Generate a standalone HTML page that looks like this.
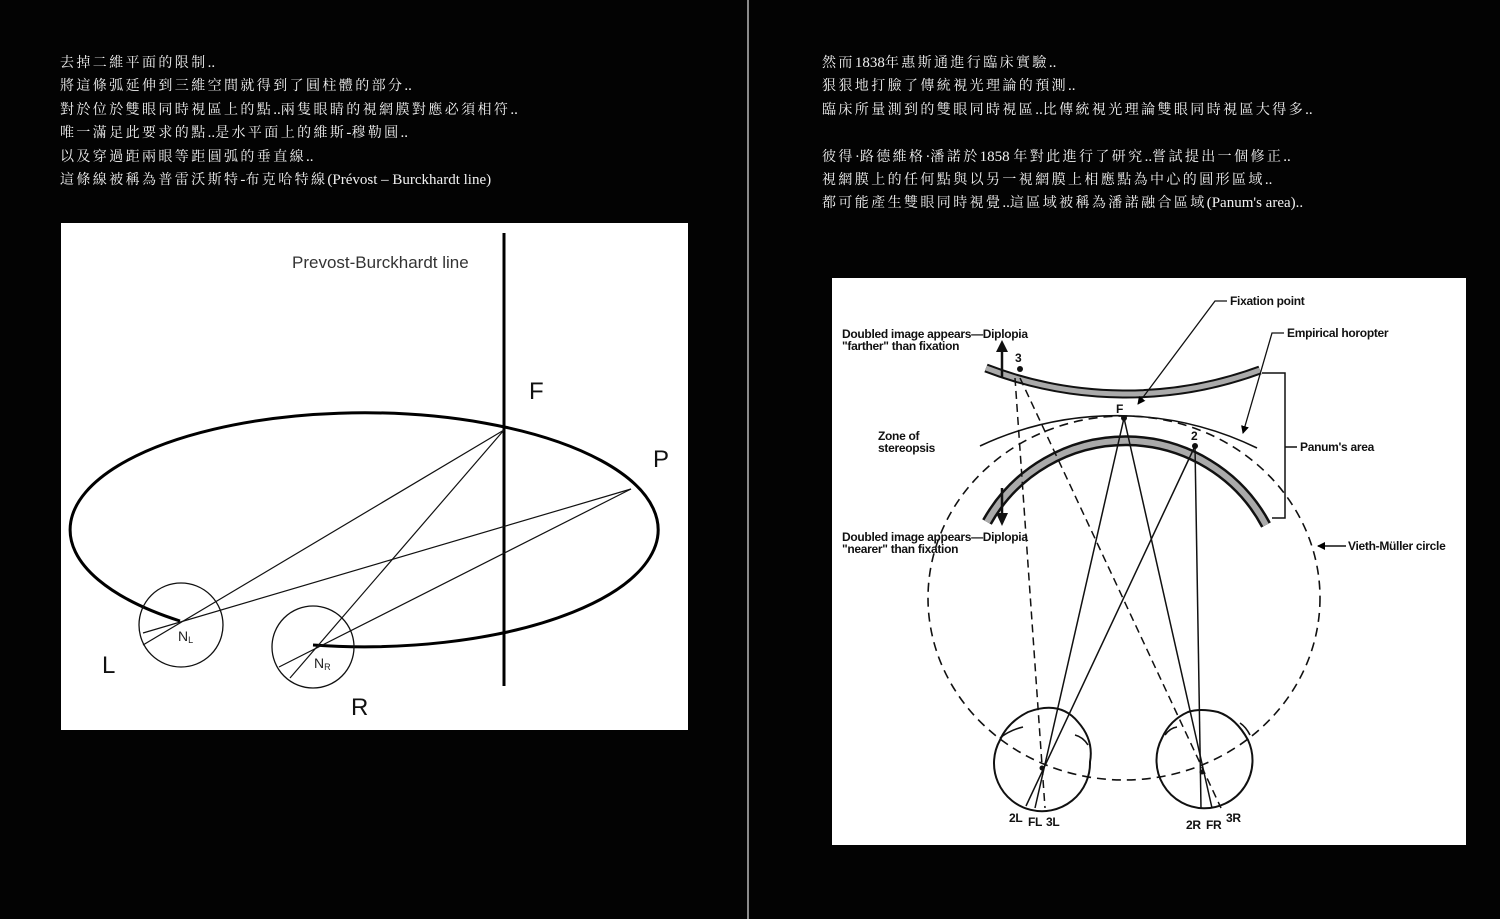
<!DOCTYPE html>
<html><head><meta charset="utf-8">
<style>
html,body{margin:0;padding:0;background:#030303;}
body{width:1500px;height:919px;position:relative;overflow:hidden;}
.t{position:absolute;color:#f2f2f2;font-family:"Liberation Serif","Noto Serif CJK SC",serif;font-size:14px;letter-spacing:2.4px;line-height:23.4px;white-space:nowrap;}
.t span{letter-spacing:0;font-size:15px;}
.div{position:absolute;left:747px;top:0;width:2px;height:919px;background:#8a8a8a;}
svg{position:absolute;left:0;top:0;}
</style></head><body>
<div class="div"></div>
<div class="t" style="left:60px;top:52px;">去掉二維平面的限制<span>..</span><br>將這條弧延伸到三維空間就得到了圓柱體的部分<span>..</span><br>對於位於雙眼同時視區上的點<span>..</span>兩隻眼睛的視網膜對應必須相符<span>..</span><br>唯一滿足此要求的點<span>..</span>是水平面上的維斯<span>-</span>穆勒圓<span>..</span><br>以及穿過距兩眼等距圓弧的垂直線<span>..</span><br>這條線被稱為普雷沃斯特<span>-</span>布克哈特線<span>(Prévost – Burckhardt line)</span></div>
<div class="t" style="left:822px;top:52px;">然而<span>1838</span>年惠斯通進行臨床實驗<span>..</span><br>狠狠地打臉了傳統視光理論的預測<span>..</span><br>臨床所量測到的雙眼同時視區<span>..</span>比傳統視光理論雙眼同時視區大得多<span>..</span><br><br>彼得<span>·</span>路德維格<span>·</span>潘諾於<span>1858 </span>年對此進行了研究<span>..</span>嘗試提出一個修正<span>..</span><br>視網膜上的任何點與以另一視網膜上相應點為中心的圓形區域<span>..</span><br>都可能產生雙眼同時視覺<span>..</span>這區域被稱為潘諾融合區域<span>(Panum's area)..</span></div>

<svg width="1500" height="919" viewBox="0 0 1500 919" font-family="Liberation Sans, Arial, sans-serif">
<defs>
<marker id="ah" markerWidth="8" markerHeight="8" refX="7" refY="4" orient="auto" markerUnits="userSpaceOnUse"><path d="M0,0 L8,4 L0,8 z" fill="#000"/></marker>
</defs>
<rect x="61" y="223" width="627" height="507" fill="#fff"/>
<text x="292" y="268" font-size="17" fill="#333">Prevost-Burckhardt line</text>
<path d="M180,621 A294,117 0 1 1 313,645" fill="none" stroke="#000" stroke-width="3"/>
<line x1="504" y1="233" x2="504" y2="686" stroke="#000" stroke-width="3"/>
<circle cx="181" cy="625" r="42" fill="none" stroke="#111" stroke-width="1.3"/>
<circle cx="313" cy="647" r="41" fill="none" stroke="#111" stroke-width="1.3"/>
<g stroke="#111" stroke-width="1.2">
<line x1="504" y1="430" x2="143" y2="645"/>
<line x1="631" y1="489" x2="143" y2="633"/>
<line x1="504" y1="430" x2="290" y2="678"/>
<line x1="631" y1="489" x2="279" y2="667"/>
</g>
<text x="529" y="399" font-size="24" fill="#111">F</text>
<text x="653" y="467" font-size="24" fill="#111">P</text>
<text x="102" y="673" font-size="24" fill="#111">L</text>
<text x="351" y="715" font-size="24" fill="#111">R</text>
<text x="178" y="641" font-size="14" fill="#222">N<tspan font-size="9" dy="2">L</tspan></text>
<text x="314" y="668" font-size="14" fill="#222">N<tspan font-size="9" dy="2">R</tspan></text>

<rect x="832" y="278" width="634" height="567" fill="#fff"/>
<g font-size="12" fill="#111" font-weight="bold" letter-spacing="-0.3">
<text x="1230" y="305">Fixation point</text>
<text x="1287" y="337">Empirical horopter</text>
<text x="842" y="338">Doubled image appears—Diplopia</text>
<text x="842" y="350">"farther" than fixation</text>
<text x="878" y="440">Zone of</text>
<text x="878" y="452">stereopsis</text>
<text x="1300" y="451">Panum's area</text>
<text x="842" y="541">Doubled image appears—Diplopia</text>
<text x="842" y="553">"nearer" than fixation</text>
<text x="1348" y="550">Vieth-Müller circle</text>
<text x="1015" y="362">3</text>
<text x="1116" y="413">F</text>
<text x="1191" y="440">2</text>
<text x="1009" y="822">2L</text>
<text x="1028" y="826">FL</text>
<text x="1046" y="826">3L</text>
<text x="1186" y="829">2R</text>
<text x="1206" y="829">FR</text>
<text x="1226" y="822">3R</text>
</g>
<g fill="none" stroke="#111" stroke-width="2">
<path d="M1028,712 Q1060,700 1078,722 Q1094,740 1090,762 A48,48 0 1 1 1000,740 Q1008,722 1028,712 z"/>
<path d="M1188,712 Q1170,720 1162,738 A48,48 0 1 0 1248,740 Q1236,718 1218,712 Q1200,708 1188,712 z"/>
</g>
<ellipse cx="1124" cy="598" rx="196" ry="182" fill="none" stroke="#111" stroke-width="1.6" stroke-dasharray="9,6"/>
<path d="M986,368 A388,388 0 0 0 1260,370" fill="none" stroke="#111" stroke-width="9"/>
<path d="M986,368 A388,388 0 0 0 1260,370" fill="none" stroke="#aaa" stroke-width="5"/>
<path d="M980,446 A322,322 0 0 1 1257,448" fill="none" stroke="#111" stroke-width="1.6"/>
<path d="M987,522 A159,159 0 0 1 1266,525" fill="none" stroke="#111" stroke-width="11"/>
<path d="M987,522 A159,159 0 0 1 1266,525" fill="none" stroke="#aaa" stroke-width="6"/>
<line x1="1002" y1="378" x2="1002" y2="350" stroke="#111" stroke-width="2.5"/>
<path d="M996,352 L1002,340 L1008,352 z" fill="#111"/>
<line x1="1002" y1="488" x2="1002" y2="515" stroke="#111" stroke-width="2.5"/>
<path d="M996,513 L1002,526 L1008,513 z" fill="#111"/>
<circle cx="1020" cy="369" r="3" fill="#111"/>
<circle cx="1124" cy="418" r="3" fill="#111"/>
<circle cx="1195" cy="446" r="3" fill="#111"/>
<polyline points="1227,301 1215,301 1138,404" fill="none" stroke="#111" stroke-width="1.3" marker-end="url(#ah)"/>
<polyline points="1284,333 1272,333 1243,433" fill="none" stroke="#111" stroke-width="1.3" marker-end="url(#ah)"/>
<polyline points="1262,373 1285,373 1285,518 1272,518" fill="none" stroke="#111" stroke-width="1.5"/>
<line x1="1285" y1="447" x2="1297" y2="447" stroke="#111" stroke-width="1.5"/>
<line x1="1346" y1="546" x2="1318" y2="546" stroke="#111" stroke-width="1.5" marker-end="url(#ah)"/>
<path d="M1000,738 Q1010,730 1023,727" fill="none" stroke="#111" stroke-width="1.6"/>
<path d="M1075,735 Q1083,737 1088,745" fill="none" stroke="#111" stroke-width="1.6"/>
<path d="M1165,735 Q1170,728 1177,727" fill="none" stroke="#111" stroke-width="1.6"/>
<path d="M1240,723 Q1246,727 1250,735" fill="none" stroke="#111" stroke-width="1.6"/>
<g stroke="#111" stroke-width="1.5">
<line x1="1124" y1="418" x2="1035" y2="808"/>
<line x1="1124" y1="418" x2="1212" y2="808"/>
<line x1="1195" y1="446" x2="1026" y2="806"/>
<line x1="1195" y1="446" x2="1201" y2="808"/>
</g>
<g stroke="#111" stroke-width="1.5" stroke-dasharray="8,5">
<line x1="1015" y1="378" x2="1045" y2="808"/>
<line x1="1020" y1="378" x2="1221" y2="808"/>
</g>
<circle cx="1042" cy="768" r="2.5" fill="#111"/>
<circle cx="1202" cy="772" r="2.5" fill="#111"/>
</svg>
</body></html>
